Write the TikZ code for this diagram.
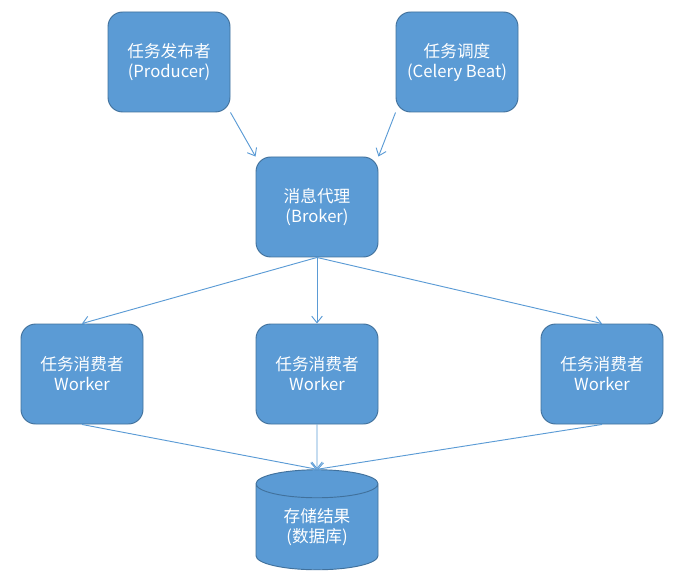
\documentclass[tikz,border=0pt]{standalone}
\usepackage{fontspec}
\setmainfont{Noto Sans CJK SC}
\usetikzlibrary{arrows.meta,shapes.geometric}
\definecolor{boxblue}{HTML}{5B9BD5}
\definecolor{boxline}{HTML}{41719C}
\begin{document}
\begin{tikzpicture}[x=0.75pt,y=-0.75pt,-{Straight Barb[length=5pt,width=8pt]},line width=0.7pt,draw=boxblue]
                \tikzstyle{block}=[rectangle,rounded corners=11pt,draw=boxline,fill=boxblue,text=white,minimum width=91.5pt,minimum height=75pt,inner sep=0pt,align=center,font=\fontsize{12.5}{15}\selectfont]
                \tikzstyle{store}=[cylinder,shape border rotate=90,aspect=0.42,draw=boxline,fill=boxblue,text=white,minimum width=91.5pt,minimum height=75pt,inner sep=0pt,align=center,font=\fontsize{12.5}{15}\selectfont]
                \useasboundingbox (0,0) rectangle (684,573);
                        \node[block] (P) at (169,62){任务发布者\\(Producer)};
                        \node[block] (C) at (457,62){任务调度\\(Celery Beat)};
                        \node[block] (B) at (317,207){消息代理\\(Broker)};
                        \node[block] (W1) at (82,374){任务消费者\\Worker};
                        \node[block] (W2) at (317,374){任务消费者\\Worker};
                        \node[block] (W3) at (602,374){任务消费者\\Worker};
                        \node[store] (D) at (317,527){存储结果\\(数据库)};

                    \foreach \from/\to in {P.south east/B.north west, C.south west/B.north east, B.south/W1.north, B.south/W2.north, B.south/W3.north, W1.south/D.north, W2.south/D.north, W3.south/D.north}
                        \draw[boxblue] (\from) -- (\to);
            \end{tikzpicture}
\end{document}
